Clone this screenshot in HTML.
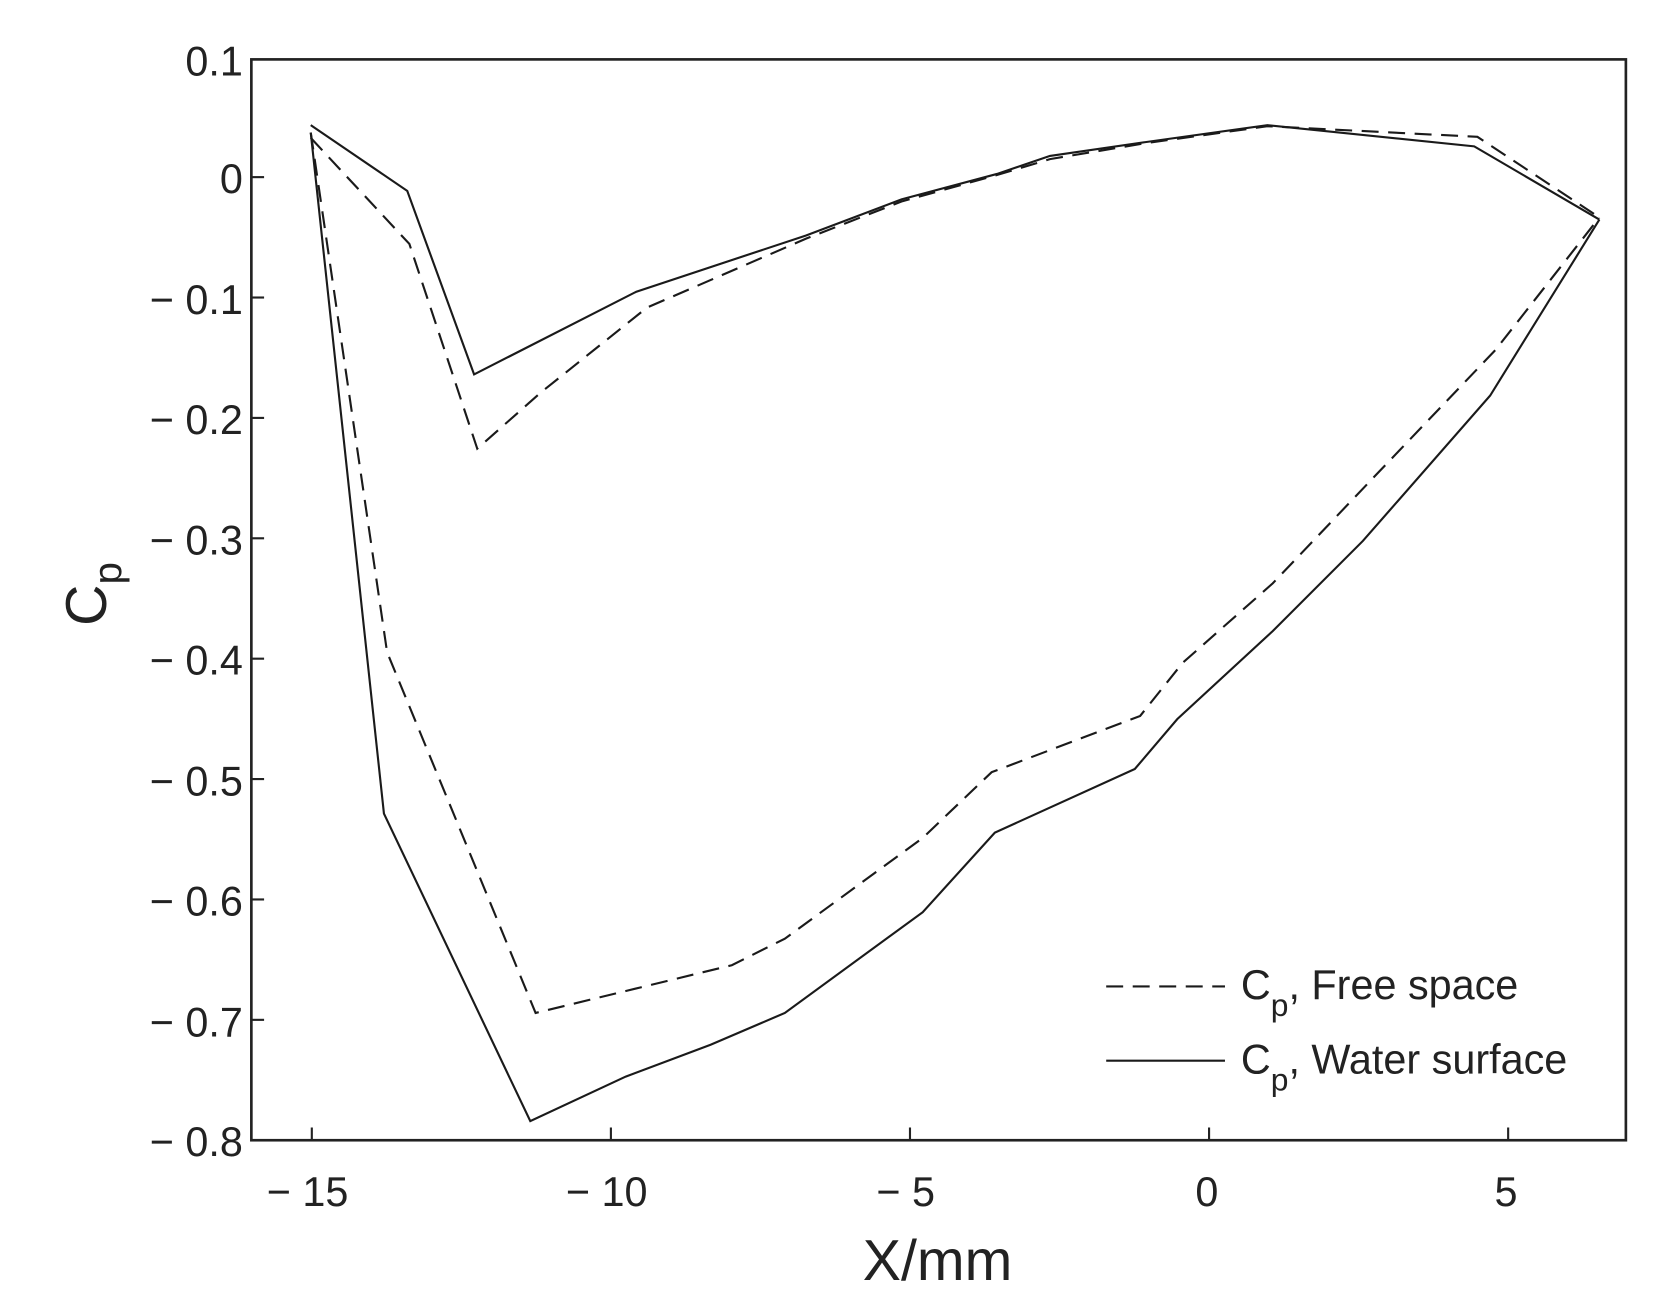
<!DOCTYPE html>
<html><head><meta charset="utf-8"><style>
html,body{margin:0;padding:0;background:#fff;}
svg{display:block;}
text{font-family:"Liberation Sans",Arial,sans-serif;fill:#222;}
</style></head><body>
<svg width="1663" height="1311" viewBox="0 0 1568 1236" preserveAspectRatio="none" xmlns="http://www.w3.org/2000/svg">
<rect width="1568" height="1236" fill="#fff"/>
<g fill="none" stroke="#1a1a1a" stroke-width="2" stroke-linejoin="miter">
<polyline stroke-dasharray="16,9" points="293,130 386,230 450,423 510,370 610,290 760,225 850,190 940,165 990,150 1080,135 1195,119 1393,129 1508,205"/>
<polyline points="293,118 384,180 447,353 600,275 760,222 850,188 940,164 990,147 1080,134 1195,118 1390,138 1508,207"/>
<polyline stroke-dasharray="16,9" points="293,125 365,615 505,955 690,910 740,885 870,790 935,728 1075,675 1115,625 1200,550 1300,445 1410,330 1508,205"/>
<polyline points="293,125 362,767 500,1057 590,1015 670,985 740,955 870,860 938,785 1070,725 1110,678 1200,595 1285,510 1405,373 1508,207"/>
</g>
<g stroke="#222" stroke-width="2.5" fill="none">
<rect x="237" y="56" width="1296" height="1019"/>
</g>
<g stroke="#222" stroke-width="2">
<line x1="237" y1="167" x2="249" y2="167"/>
<line x1="237" y1="280.5" x2="249" y2="280.5"/>
<line x1="237" y1="394" x2="249" y2="394"/>
<line x1="237" y1="507.5" x2="249" y2="507.5"/>
<line x1="237" y1="621" x2="249" y2="621"/>
<line x1="237" y1="734.5" x2="249" y2="734.5"/>
<line x1="237" y1="848" x2="249" y2="848"/>
<line x1="237" y1="961.5" x2="249" y2="961.5"/>
<line x1="294" y1="1075" x2="294" y2="1063"/>
<line x1="576" y1="1075" x2="576" y2="1063"/>
<line x1="858" y1="1075" x2="858" y2="1063"/>
<line x1="1140" y1="1075" x2="1140" y2="1063"/>
<line x1="1422" y1="1075" x2="1422" y2="1063"/>
</g>
<g font-size="39" text-anchor="end">
<text x="229" y="71">0.1</text>
<text x="229" y="182">0</text>
<text x="229" y="296">− 0.1</text>
<text x="229" y="409">− 0.2</text>
<text x="229" y="523">− 0.3</text>
<text x="229" y="636">− 0.4</text>
<text x="229" y="750">− 0.5</text>
<text x="229" y="863">− 0.6</text>
<text x="229" y="977">− 0.7</text>
<text x="229" y="1090">− 0.8</text>
</g>
<g font-size="39" text-anchor="middle">
<text x="290" y="1137">− 15</text>
<text x="572" y="1137">− 10</text>
<text x="854" y="1137">− 5</text>
<text x="1138" y="1137">0</text>
<text x="1420" y="1137">5</text>
</g>
<text x="884" y="1207" font-size="54" text-anchor="middle">X/mm</text>
<text transform="translate(100,560) rotate(-90)" font-size="54" text-anchor="middle">C<tspan font-size="38" dy="14">p</tspan></text>
<g stroke="#1a1a1a" stroke-width="2">
<line x1="1043" y1="930" x2="1155" y2="930" stroke-dasharray="16,9"/>
<line x1="1043" y1="1000" x2="1155" y2="1000"/>
</g>
<g font-size="39">
<text x="1170" y="942">C<tspan font-size="30" dy="16">p</tspan><tspan dy="-16">, Free space</tspan></text>
<text x="1170" y="1012">C<tspan font-size="30" dy="16">p</tspan><tspan dy="-16">, Water surface</tspan></text>
</g>
</svg>
</body></html>
